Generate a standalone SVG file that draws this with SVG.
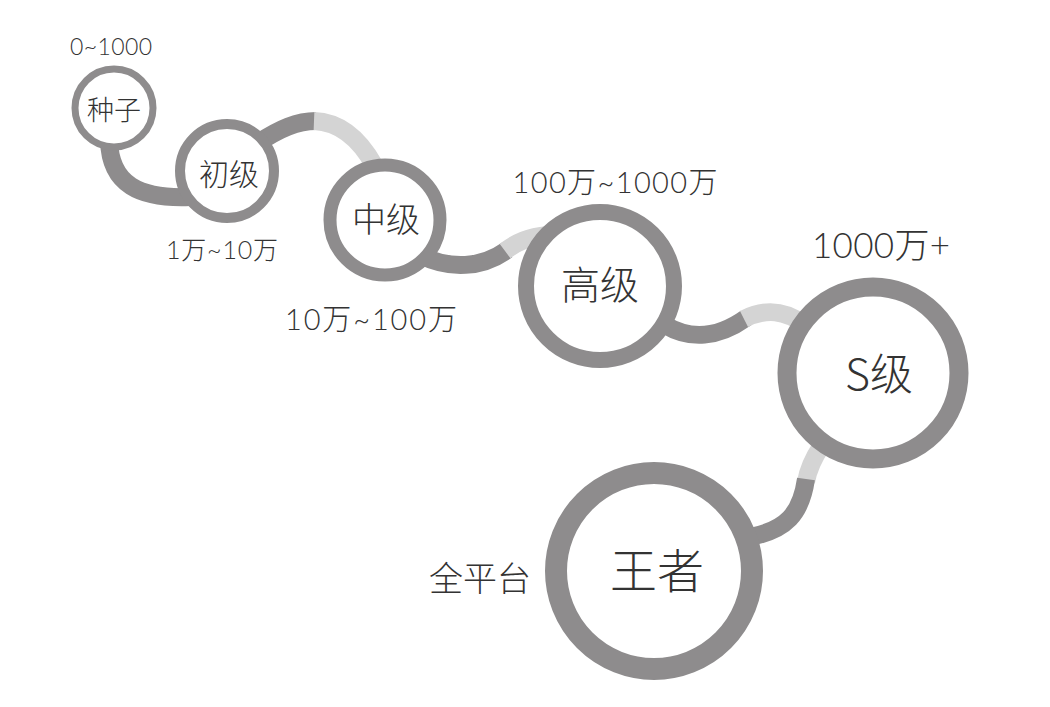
<svg xmlns="http://www.w3.org/2000/svg" width="1050" height="707" viewBox="0 0 1050 707">
<style>
.dark{fill:none;stroke:#8e8c8d;stroke-width:18;stroke-linecap:butt}
.light{fill:none;stroke:#d4d4d4;stroke-width:18;stroke-linecap:butt}
.ring{fill:#fff;stroke:#8e8c8d}
.t{font-family:"Noto Sans CJK SC","Liberation Sans",sans-serif;fill:#333;text-anchor:middle;font-weight:300}
.n{font-family:Lato,"Noto Sans CJK SC",sans-serif;fill:#333;text-anchor:middle;font-weight:300}
</style>
<rect width="1050" height="707" fill="#fff"/>
<g id="connectors">
  <path class="dark" d="M109,140 C110,185 140,199 190,197"/>
  <path class="dark" d="M255,145 C280,128 298,121 316,121"/>
  <path class="light" d="M314,121 C340,122 360,140 374,165"/>
  <path class="dark" d="M420,255 C450,270 482,268 507,250"/>
  <path class="light" d="M505,251 C517,242 528,237 548,235"/>
  <path class="dark" d="M665,325 C690,340 718,338 746,318"/>
  <path class="light" d="M744,319 C766,308 785,310 805,325"/>
  <path class="light" d="M822,445 C812,460 808,470 806,482"/>
  <path class="dark" d="M806,479 C801,514 786,530 750,537"/>
</g>
<g id="node-seed">
  <circle class="ring" cx="114" cy="108" r="39" stroke-width="7"/>
  <text class="t" x="114" y="120" font-size="27">种子</text>
  <text class="n" x="111" y="55" font-size="23" textLength="82">0~1000</text>
</g>
<g id="node-junior">
  <circle class="ring" cx="227" cy="171" r="47" stroke-width="10"/>
  <text class="t" x="229" y="185" font-size="30">初级</text>
  <text class="n" x="222" y="259" font-size="25" textLength="112">1万~10万</text>
</g>
<g id="node-mid">
  <circle class="ring" cx="385" cy="220" r="55" stroke-width="13"/>
  <text class="t" x="386" y="232" font-size="34">中级</text>
  <text class="n" x="371" y="330" font-size="29" textLength="172">10万~100万</text>
</g>
<g id="node-senior">
  <circle class="ring" cx="600" cy="286" r="74" stroke-width="16"/>
  <text class="t" x="600" y="299" font-size="39">高级</text>
  <text class="n" x="615" y="193" font-size="29" textLength="205">100万~1000万</text>
</g>
<g id="node-s">
  <circle class="ring" cx="873" cy="373" r="86" stroke-width="19"/>
  <text class="t" x="879" y="390" font-size="43">S级</text>
  <text class="n" x="881" y="258" font-size="35" textLength="138">1000万+</text>
</g>
<g id="node-king">
  <circle class="ring" cx="654" cy="571" r="98" stroke-width="22"/>
  <text class="t" x="657" y="588" font-size="47">王者</text>
  <text class="t" x="480" y="591" font-size="34">全平台</text>
</g>
</svg>
